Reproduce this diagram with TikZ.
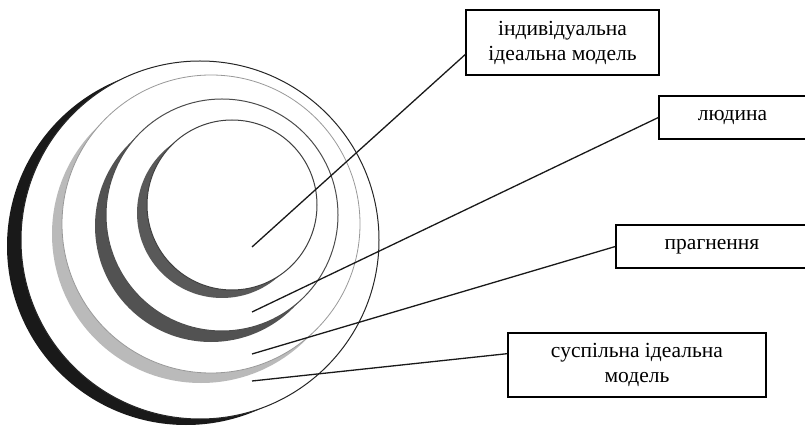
\documentclass[tikz,border=0pt]{standalone}
\usepackage{fontspec}
\setmainfont{Liberation Serif}
\begin{document}
\begin{tikzpicture}[x=1pt,y=-1pt,
  lbl/.style={draw=black, line width=1.3pt, fill=white, align=center,
    font=\fontsize{21.5}{25}\selectfont, inner sep=0pt},
  conn/.style={line width=1.3pt, draw=black!90},
  rim/.style={fill=white, line width=1pt}]
\useasboundingbox (0,0) rectangle (805,427);
\clip (0,0) rectangle (805,427);
% outer ring
\fill[black!90] (186,246) circle (179pt);
\filldraw[rim, draw=black!85] (200,240) circle (179pt);
% second ring (light grey)
\fill[black!27] (201,234) circle (149pt);
\filldraw[rim, draw=black!40, line width=0.8pt] (211,224) circle (149pt);
% third ring (dark grey)
\fill[black!68] (211,226) circle (116pt);
\filldraw[rim, draw=black!70] (222,215) circle (116pt);
% inner ring
\fill[black!65] (222,213) circle (85pt);
\filldraw[rim, draw=black!75] (232,205) circle (85pt);
% labels
\node[lbl, minimum width=193pt, minimum height=65pt] (b1) at (562.5,42.5)
  {індивідуальна\\ідеальна модель};
\node[lbl, minimum width=147pt, minimum height=43pt] (b2) at (732.5,117.5) {людина};
\node[lbl, minimum width=192pt, minimum height=43pt] (b3) at (712,246.5) {прагнення};
\node[lbl, minimum width=258pt, minimum height=64pt] (b4) at (637,365)
  {суспільна ідеальна\\модель};
% connector ends
\coordinate (p1) at (252,247);
\coordinate (p2) at (252,312);
\coordinate (p3) at (252,354);
\coordinate (p4) at (252,381);
\draw[conn] (p1) -- (b1.187);
\draw[conn] (p2) -- (b2.west);
\draw[conn] (p3) -- (b3.west);
\draw[conn] (p4) -- (b4.175);
\end{tikzpicture}
\end{document}
